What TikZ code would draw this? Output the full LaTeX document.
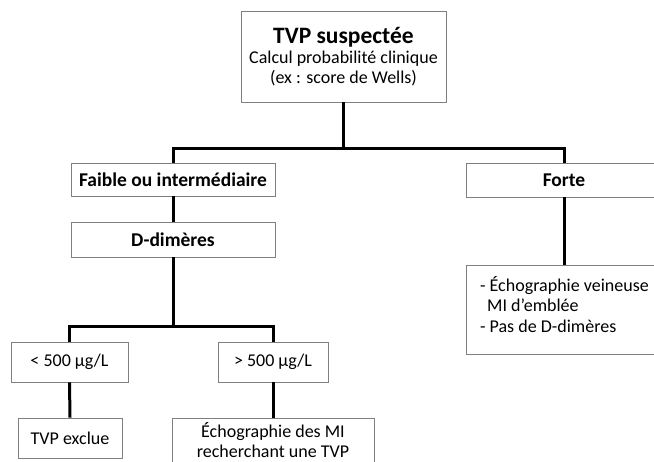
\documentclass[tikz,border=0pt]{standalone}
\usepackage{fontspec}
\setmainfont{Carlito}
\begin{document}
\begin{tikzpicture}[x=1pt,y=-1pt,
  box/.style={draw=black!50, line width=0.9pt, fill=white, inner sep=0pt,
    font=\fontsize{18}{21}\selectfont, align=center},
  bbox/.style={box, font=\fontsize{19.5}{22}\bfseries\selectfont},
  conn/.style={line width=3pt, black}]
\useasboundingbox (0,0) rectangle (654,462);
\clip (0,0) rectangle (654,462);
% boxes
\node[box, minimum width=205pt, minimum height=91pt] (top) at (343.5,56.5)
  {{\fontsize{23.5}{26}\bfseries\selectfont TVP suspectée}\\[-1pt]Calcul probabilité clinique\\[-1pt](ex : score de Wells)};
\node[bbox, minimum width=204pt, minimum height=33pt] (faible) at (173,179.5) {Faible ou intermédiaire};
\node[bbox, minimum width=204pt, minimum height=35pt] (ddim) at (173,239.5) {D-dimères};
\node[bbox, minimum width=196pt, minimum height=34pt] (forte) at (564,180) {Forte};
\node[box, anchor=north west, minimum width=196pt, minimum height=89pt, align=left,
  inner xsep=9pt, font=\fontsize{18}{20.5}\selectfont] (echo) at (466,265)
  {- Échographie veineuse\\\hspace*{7pt}MI d’emblée\\- Pas de D-dimères\\[-9pt]\mbox{}};
\node[box, minimum width=117pt, minimum height=40pt] (lt) at (69.5,362) {< 500 µg/L};
\node[box, minimum width=110pt, minimum height=40pt] (gt) at (273,362) {> 500 µg/L};
\node[box, minimum width=104pt, minimum height=40pt] (excl) at (70,438) {TVP exclue};
\node[box, minimum width=202pt, minimum height=44pt, font=\fontsize{18}{20.5}\selectfont] (echomi) at (273,440)
  {Échographie des MI\\recherchant une TVP};
% junctions
\coordinate (j1) at (343.5,149);
\coordinate (j2) at (173,327);
% connectors
\draw[conn] (top.south) -- (j1);
\draw[conn] (faible.north) |- (j1) -| (forte.north);
\draw[conn] (faible.south) -- (ddim.north);
\draw[conn] (forte.south) -- (echo.north -| forte.south);
\draw[conn] (ddim.south) -- (j2);
\draw[conn] (lt.north) |- (j2) -| (gt.north);
\draw[conn] (lt.south) -- (excl.north);
\draw[conn] (gt.south) -- (echomi.north);
\end{tikzpicture}
\end{document}
